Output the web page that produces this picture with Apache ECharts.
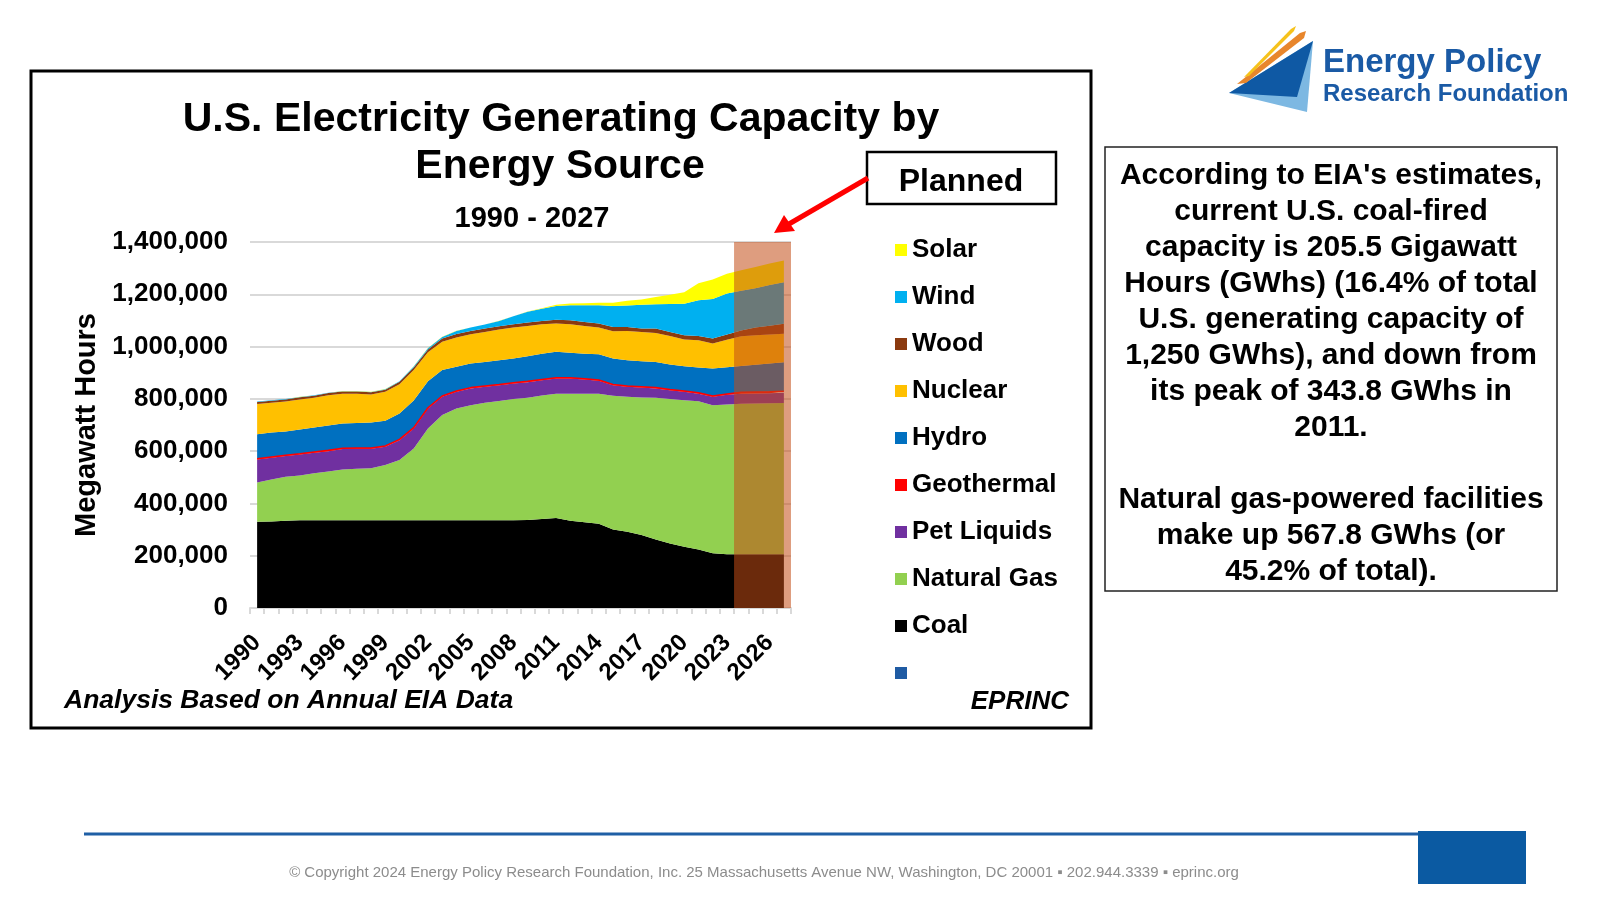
<!DOCTYPE html>
<html>
<head>
<meta charset="utf-8">
<script src="https://cdn.jsdelivr.net/npm/echarts@6/dist/echarts.min.js"></script>
<style>
  html, body { margin: 0; padding: 0; background: #fff; }
  #chart { width: 1600px; height: 900px; }
</style>
</head>
<body>
<div id="chart"></div>
<script>
// ---------------- DATA (MW) ----------------
const years = ['1990','1991','1992','1993','1994','1995','1996','1997','1998','1999',
  '2000','2001','2002','2003','2004','2005','2006','2007','2008','2009',
  '2010','2011','2012','2013','2014','2015','2016','2017','2018','2019',
  '2020','2021','2022','2023','2024','2025','2026','2027'];

const coal = [330000,331000,334000,336000,336000,336000,336000,336000,336000,336000,
  336000,336000,336000,336000,336000,336000,336000,336000,336000,337000,
  340000,343800,334000,328000,322000,300000,292000,279000,262000,247000,
  234000,224000,209000,206000,205500,205500,205500,205500];

const naturalGas = [150000,161000,168000,171000,179000,186000,194000,197000,199000,211000,
  230000,274000,351000,402000,427000,440000,449000,456000,463000,467000,
  473000,476000,486000,492000,498000,512000,516000,526000,542000,552000,
  561000,567000,567000,572000,576000,577000,578000,579000];

const petLiquids = [88000,83000,79000,80000,79000,78000,78000,76000,74000,70000,
  76000,77000,76000,70000,64000,64000,61000,60000,60000,60000,
  58000,58000,58000,54000,49000,40000,38000,38000,36000,34000,
  32000,29000,32000,38000,38000,38000,38000,39000];

const geothermal = [3000,3000,3000,3000,3000,3000,3000,3000,3000,3000,
  3000,3000,3000,3000,3000,3000,3000,3000,3000,3000,
  3000,3000,3000,3000,3000,3000,3000,3000,3000,3000,
  3000,3000,3000,3000,6000,6000,6000,6000];

const hydro = [94000,93000,91000,93000,93000,95000,95000,96000,98000,96000,
  99000,104000,101000,99000,93000,92000,92000,93000,92000,96000,
  99000,99000,95000,96000,99000,99000,99000,98000,98000,95000,
  95000,97000,105000,102000,100000,104000,108000,111000];

const nuclear = [115000,114000,115000,115000,114000,116000,114000,112000,107000,111000,
  112000,116000,111000,108000,112000,112000,115000,117000,119000,116000,
  112000,108000,109000,106000,102000,105000,112000,112000,111000,109000,
  102000,104000,96000,105000,114000,113000,111000,109000];

const wood = [8000,8000,8000,8000,8000,8000,8000,8000,8000,8000,
  9000,10000,11000,13000,13000,13000,13000,13000,12000,13000,
  13000,15000,16000,15000,15000,16000,15000,13000,17000,16000,
  16000,16000,19000,20000,22000,29000,33000,38000];

const wind = [1500,1500,1500,1500,1500,1500,1500,1500,1500,2000,
  2500,4000,5000,6000,12000,13000,15000,20000,31000,41000,
  47000,52000,57000,64000,70000,80000,82000,91000,93000,107000,
  121000,137000,151000,157000,152000,151000,156000,159000];

const solar = [300,300,300,300,300,300,300,300,300,300,
  300,300,300,300,300,300,300,300,300,1000,
  2000,5000,7000,8000,10000,13000,18000,20000,28000,35000,
  44000,65000,75000,76000,78000,81000,82000,83000];

const legendOrder = ['Solar','Wind','Wood','Nuclear','Hydro','Geothermal','Pet Liquids','Natural Gas','Coal',' '];
const yTicks = [0, 200000, 400000, 600000, 800000, 1000000, 1200000, 1400000];
const plannedStart = '2024';
const plannedEnd = '2027';

const textLines = [
  "According to EIA's estimates,",
  "current U.S. coal-fired",
  "capacity is 205.5 Gigawatt",
  "Hours (GWhs) (16.4% of total",
  "U.S. generating capacity of",
  "1,250 GWhs), and down from",
  "its peak of 343.8 GWhs in",
  "2011.",
  "",
  "Natural gas-powered facilities",
  "make up 567.8 GWhs (or",
  "45.2% of total)."
];

// ---------------- CHART ----------------
const FONT = "'Liberation Sans', Arial, Helvetica, sans-serif";
const chart = echarts.init(document.getElementById('chart'));

function areaSeries(name, data, color, extra) {
  return Object.assign({
    name: name, type: 'line', stack: 'capacity', data: data,
    symbol: 'none', showSymbol: false, smooth: false,
    lineStyle: { width: 0, color: color },
    areaStyle: { color: color, opacity: 1 },
    itemStyle: { color: color },
    emphasis: { disabled: true },
    z: 2
  }, extra || {});
}

const pStartIdx = years.indexOf(plannedStart);
const pEndIdx = years.indexOf(plannedEnd);

const option = {
  animation: false,
  backgroundColor: '#ffffff',
  textStyle: { fontFamily: FONT },
  grid: { left: 250, top: 242, width: 541, height: 366, containLabel: false },
  xAxis: [{
    type: 'category', data: years, boundaryGap: true,
    axisLine: { show: true, lineStyle: { color: '#d9d9d9', width: 2 } },
    axisTick: { show: true, interval: 0, length: 6, lineStyle: { color: '#d9d9d9', width: 2 } },
    axisLabel: { interval: 2, rotate: 45, margin: 31, color: '#000', fontSize: 24, fontWeight: 'bold', fontFamily: FONT },
    splitLine: { show: false }
  }, {
    type: 'value', min: -0.5, max: years.length - 0.5, show: false
  }],
  yAxis: {
    type: 'value', min: yTicks[0], max: yTicks[yTicks.length - 1], interval: yTicks[1] - yTicks[0],
    name: 'Megawatt Hours', nameLocation: 'middle', nameGap: 149,
    nameTextStyle: { fontSize: 29, fontWeight: 'bold', color: '#000', fontFamily: FONT },
    axisLine: { show: false }, axisTick: { show: false },
    axisLabel: { margin: 22, color: '#000', fontSize: 26, fontWeight: 'bold', fontFamily: FONT,
      formatter: v => v.toLocaleString('en-US') },
    splitLine: { show: true, lineStyle: { color: '#d9d9d9', width: 2 } }
  },
  legend: {
    data: legendOrder, orient: 'vertical', left: 895, top: 237,
    itemWidth: 12, itemHeight: 12, itemGap: 21, icon: 'rect', padding: 0,
    selectedMode: false,
    textStyle: { fontSize: 26, fontWeight: 'bold', color: '#000', fontFamily: FONT, lineHeight: 26 }
  },
  series: [
    areaSeries('Coal', coal, '#000000'),
    areaSeries('Natural Gas', naturalGas, '#92D050'),
    areaSeries('Pet Liquids', petLiquids, '#7030A0'),
    areaSeries('Geothermal', geothermal, '#FF0000', { lineStyle: { width: 1.5, color: '#FF0000' }, z: 3 }),
    areaSeries('Hydro', hydro, '#0070C0'),
    areaSeries('Nuclear', nuclear, '#FFC000'),
    areaSeries('Wood', wood, '#8B3A0F'),
    areaSeries('Wind', wind, '#00B0F0'),
    areaSeries('Solar', solar, '#FFFF00'),
    { name: ' ', type: 'line', data: [], itemStyle: { color: '#1F5BA3' }, lineStyle: { color: '#1F5BA3' } },
    {
      name: 'Planned', type: 'custom', xAxisIndex: 1, yAxisIndex: 0, z: 10, silent: true,
      data: [[pStartIdx - 0.5, pEndIdx + 0.5]],
      renderItem: function (params, api) {
        const p0 = api.coord([api.value(0), yTicks[0]]);
        const p1 = api.coord([api.value(1), yTicks[yTicks.length - 1]]);
        return {
          type: 'rect',
          shape: { x: p0[0], y: p1[1], width: p1[0] - p0[0], height: p0[1] - p1[1] },
          style: { fill: 'rgba(195,76,22,0.55)' }
        };
      }
    }
  ],
  graphic: [
    // chart frame
    { type: 'rect', silent: true, z: -10, shape: { x: 31, y: 71, width: 1060, height: 657 },
      style: { fill: 'none', stroke: '#000', lineWidth: 3 } },
    // titles
    { type: 'text', x: 561, y: 120, style: { text: 'U.S. Electricity Generating Capacity by', font: 'bold 41px ' + FONT,
      fill: '#000', textAlign: 'center', textVerticalAlign: 'middle' } },
    { type: 'text', x: 560, y: 167, style: { text: 'Energy Source', font: 'bold 41px ' + FONT,
      fill: '#000', textAlign: 'center', textVerticalAlign: 'middle' } },
    { type: 'text', x: 532, y: 219, style: { text: '1990 - 2027', font: 'bold 29px ' + FONT,
      fill: '#000', textAlign: 'center', textVerticalAlign: 'middle' } },
    // Planned label
    { type: 'rect', shape: { x: 867, y: 152, width: 189, height: 52 },
      style: { fill: '#fff', stroke: '#000', lineWidth: 2.5 } },
    { type: 'text', x: 961, y: 182, style: { text: 'Planned', font: 'bold 32px ' + FONT,
      fill: '#000', textAlign: 'center', textVerticalAlign: 'middle' } },
    // arrow
    { type: 'line', shape: { x1: 868, y1: 178, x2: 789, y2: 224 }, style: { stroke: '#FF0000', lineWidth: 5 } },
    { type: 'polygon', shape: { points: [[774, 233], [795, 231], [784, 215]] }, style: { fill: '#FF0000' } },
    // notes
    { type: 'text', x: 64, y: 701, style: { text: 'Analysis Based on Annual EIA Data', font: 'italic bold 26.5px ' + FONT,
      fill: '#000', textAlign: 'left', textVerticalAlign: 'middle' } },
    { type: 'text', x: 1069, y: 702, style: { text: 'EPRINC', font: 'italic bold 26px ' + FONT,
      fill: '#000', textAlign: 'right', textVerticalAlign: 'middle' } },
    // right text box
    { type: 'rect', shape: { x: 1105, y: 147, width: 452, height: 444 },
      style: { fill: '#fff', stroke: '#222', lineWidth: 1.5 } },
    { type: 'text', x: 1331, y: 158, style: { text: textLines.join('\n'), font: 'bold 30px ' + FONT,
      lineHeight: 36, fill: '#000', textAlign: 'center', textVerticalAlign: 'top' } },
    // logo
    { type: 'polygon', shape: { points: [[1229, 93], [1307, 112], [1313, 41]] }, style: { fill: '#7DB8E2' } },
    { type: 'polygon', shape: { points: [[1229, 93], [1313, 41], [1297, 97]] }, style: { fill: '#0F59A4' } },
    { type: 'polygon', shape: { points: [[1237, 84], [1300, 33], [1306, 31], [1304, 38], [1246, 83]] }, style: { fill: '#E8862C' } },
    { type: 'polygon', shape: { points: [[1244, 77], [1291, 29], [1296, 26], [1294, 31], [1249, 76]] }, style: { fill: '#F6C21B' } },
    { type: 'text', x: 1323, y: 63, style: { text: 'Energy Policy', font: 'bold 33px ' + FONT,
      fill: '#1A5AA5', textAlign: 'left', textVerticalAlign: 'middle' } },
    { type: 'text', x: 1323, y: 94, style: { text: 'Research Foundation', font: 'bold 24px ' + FONT,
      fill: '#1A5AA5', textAlign: 'left', textVerticalAlign: 'middle' } },
    // footer
    { type: 'line', shape: { x1: 84, y1: 834, x2: 1418, y2: 834 }, style: { stroke: '#1F5FA5', lineWidth: 3 } },
    { type: 'rect', shape: { x: 1418, y: 831, width: 108, height: 53 }, style: { fill: '#0B5AA2' } },
    { type: 'text', x: 764, y: 873, style: {
      text: '\u00A9 Copyright 2024 Energy Policy Research Foundation, Inc. 25 Massachusetts Avenue NW, Washington, DC 20001 \u25AA 202.944.3339 \u25AA eprinc.org',
      font: '15px ' + FONT, fill: '#8C8C8C', textAlign: 'center', textVerticalAlign: 'middle' } }
  ]
};
chart.setOption(option);
</script>
</body>
</html>
